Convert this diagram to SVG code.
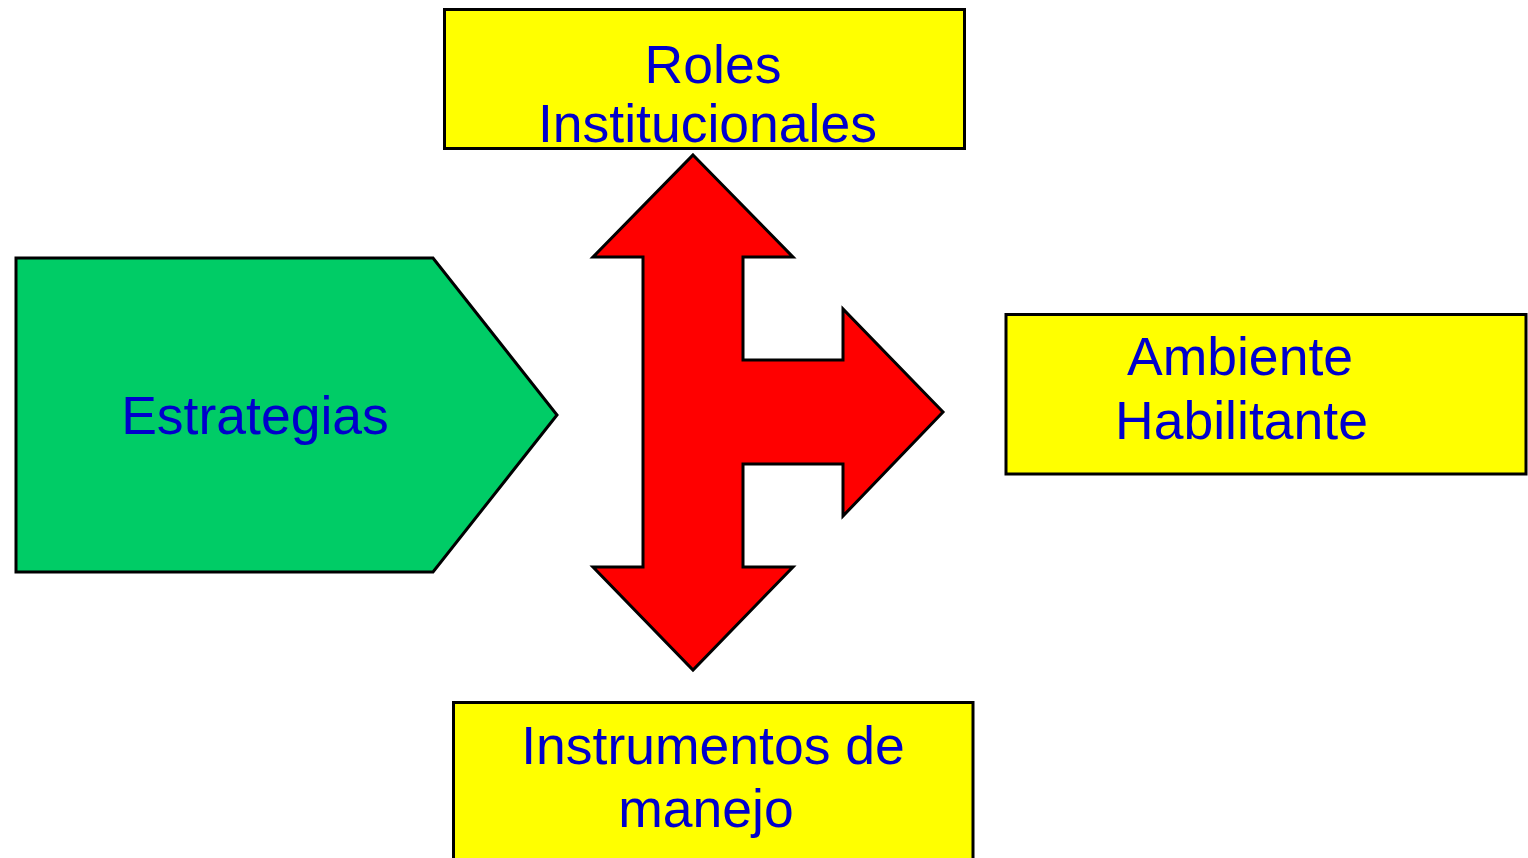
<svg xmlns="http://www.w3.org/2000/svg" width="1528" height="858" viewBox="0 0 1528 858">
<style>
.box{fill:#FFFF00;stroke:#000;stroke-width:3}
.lbl{font-family:"Liberation Sans",Arial,sans-serif;font-size:53.5px;fill:#0000CC;text-anchor:middle}
</style>
<rect width="1528" height="858" fill="#fff"/>
<g id="connectors">
<polygon points="693,155 793,257 743,257 743,360 843,360 843,309 943,412 843,516 843,464 743,464 743,567 793,567 693,670 593,567 643,567 643,257 593,257" fill="#FF0000" stroke="#000" stroke-width="3" stroke-linejoin="miter"/>
</g>
<g id="estrategias">
<polygon points="16,258 433,258 557,415 433,572 16,572" fill="#00CC66" stroke="#000" stroke-width="3"/>
<text class="lbl" x="255" y="434">Estrategias</text>
</g>
<g id="roles">
<rect class="box" x="444.5" y="9.5" width="520" height="139"/>
<text class="lbl" x="713" y="83">Roles</text>
<text class="lbl" x="707.5" y="142">Institucionales</text>
</g>
<g id="ambiente">
<rect class="box" x="1006" y="314.5" width="520" height="159.5"/>
<text class="lbl" x="1240" y="375">Ambiente</text>
<text class="lbl" x="1241.5" y="439">Habilitante</text>
</g>
<g id="instrumentos">
<rect class="box" x="453.5" y="702.5" width="519.5" height="170"/>
<text class="lbl" x="713" y="764">Instrumentos de</text>
<text class="lbl" x="706" y="827">manejo</text>
</g>
</svg>
